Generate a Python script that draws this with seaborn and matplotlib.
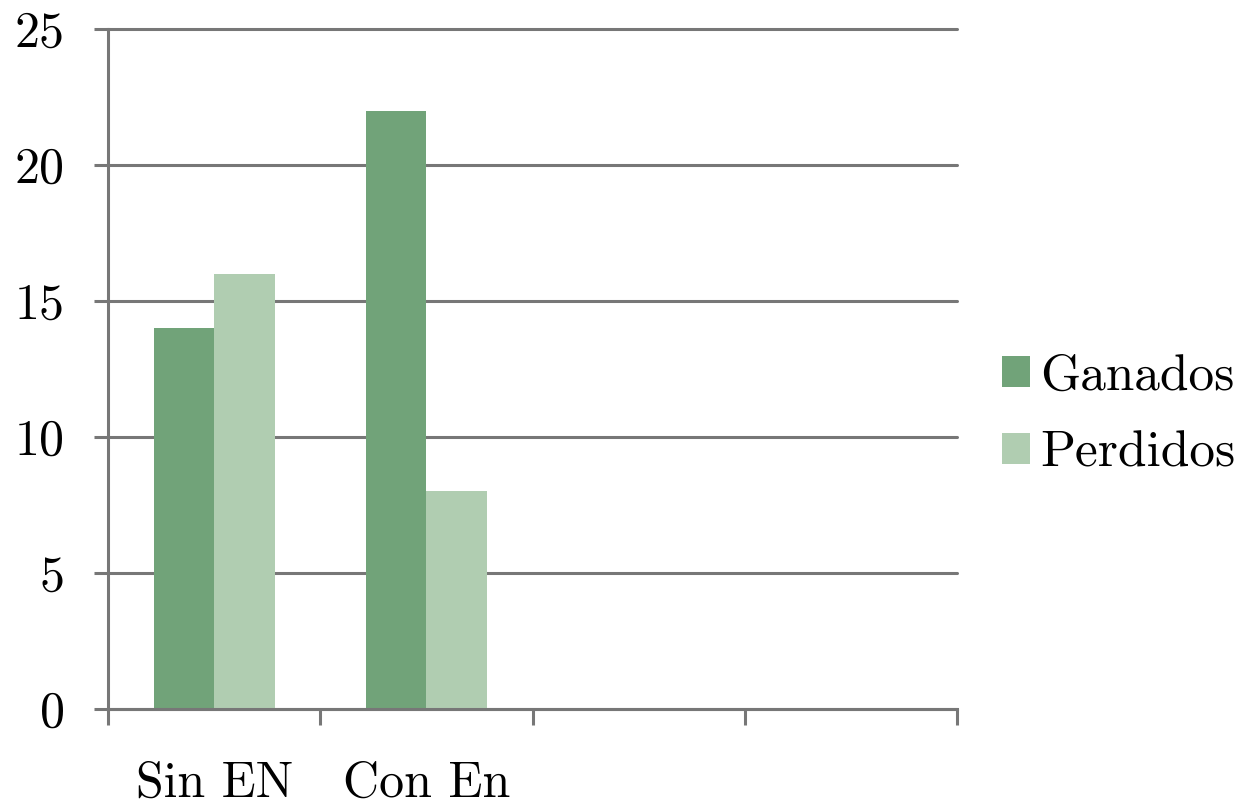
import matplotlib
matplotlib.use("Agg")
import matplotlib.pyplot as plt
import matplotlib.patches as mpatches
import seaborn as sns
import pandas as pd
import numpy as np

# Data
categories = ["Sin EN", "Con En", "", " "]
ganados = [14, 22, np.nan, np.nan]
perdidos = [16, 8, np.nan, np.nan]
series = ["Ganados", "Perdidos"]
colors = ["#71A379", "#B0CDB1"]
yticks = [0, 5, 10, 15, 20, 25]

df = pd.DataFrame({
    "categoria": categories * 2,
    "serie": [series[0]] * len(categories) + [series[1]] * len(categories),
    "valor": ganados + perdidos,
})

sns.set_theme(style="white")
plt.rcParams["font.family"] = ["cmr10", "DejaVu Serif"]
plt.rcParams["axes.formatter.use_mathtext"] = True
plt.rcParams["text.color"] = "black"
plt.rcParams["xtick.labelcolor"] = "black"
plt.rcParams["ytick.labelcolor"] = "black"

fig = plt.figure(figsize=(12.43, 8.05), dpi=100)
ax = fig.add_axes([108 / 1243, 1 - 709 / 805, (957 - 108) / 1243, (709 - 29) / 805])

grid_c = "#777777"
lw = 2.2

sns.barplot(data=df, x="categoria", y="valor", hue="serie", order=categories,
            hue_order=series, palette=colors, width=0.57, saturation=1,
            ax=ax, legend=False, linewidth=0)

ax.set_xlim(-0.5, len(categories) - 0.5)
ax.set_ylim(0, 25)
ax.set_yticks(yticks)
ax.set_yticklabels([str(v) for v in yticks])
for y in yticks:
    ax.axhline(y, color=grid_c, lw=lw, zorder=0.5, clip_on=False)

ax.set_xticks(range(2))
ax.set_xticklabels(categories[:2])
ax.set_xticks(np.arange(-0.5, len(categories), 1.0), minor=True)

ax.tick_params(axis="x", which="major", length=0, pad=37, labelsize=36)
ax.tick_params(axis="x", which="minor", length=11.5, width=lw, color=grid_c,
               direction="out", bottom=True)
ax.tick_params(axis="y", length=10, width=lw, color=grid_c, direction="out",
               pad=21, labelsize=36, left=True)

for side in ["top", "right"]:
    ax.spines[side].set_visible(False)
for side in ["left", "bottom"]:
    ax.spines[side].set_color(grid_c)
    ax.spines[side].set_linewidth(lw)

ax.set_xlabel("")
ax.set_ylabel("")

handles = [mpatches.Patch(facecolor=c, edgecolor="none", label=s) for c, s in zip(colors, series)]
fig.legend(handles=handles, loc="center left", bbox_to_anchor=(1002 / 1243, 1 - 415 / 805),
           frameon=False, fontsize=37, handlelength=0.55, handleheight=0.55,
           handletextpad=0.2, labelspacing=0.6, borderpad=0, borderaxespad=0)

fig.savefig("out.png", dpi=100, facecolor="white")
